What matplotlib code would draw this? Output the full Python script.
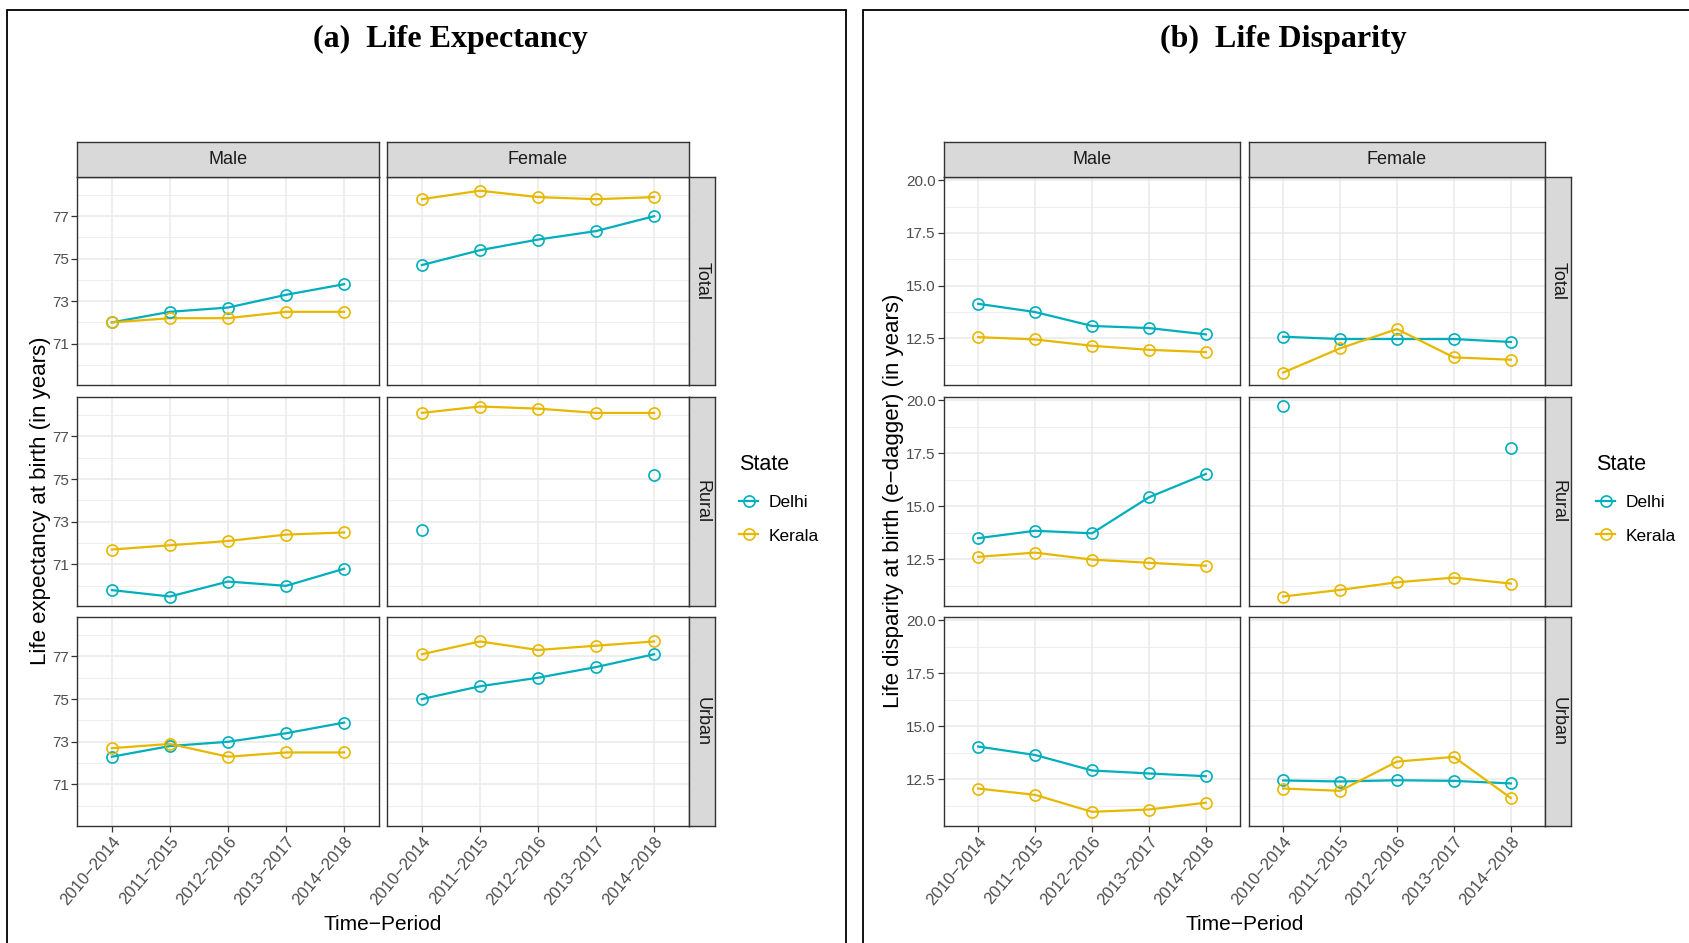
import numpy as np
import matplotlib.pyplot as plt
from matplotlib.lines import Line2D
from matplotlib.patches import Rectangle

W, H = 1690, 943

periods = ["2010\u22122014", "2011\u22122015", "2012\u22122016", "2013\u22122017", "2014\u22122018"]
states = ["Delhi", "Kerala"]
sexes = ["Male", "Female"]
residences = ["Total", "Rural", "Urban"]
nan = np.nan

# (a) life expectancy at birth
le_delhi_total_male = [72.0, 72.5, 72.7, 73.3, 73.8]
le_kerala_total_male = [72.0, 72.2, 72.2, 72.5, 72.5]
le_delhi_total_female = [74.7, 75.4, 75.9, 76.3, 77.0]
le_kerala_total_female = [77.8, 78.2, 77.9, 77.8, 77.9]
le_delhi_rural_male = [69.8, 69.5, 70.2, 70.0, 70.8]
le_kerala_rural_male = [71.7, 71.9, 72.1, 72.4, 72.5]
le_delhi_rural_female = [72.6, nan, nan, nan, 75.2]
le_kerala_rural_female = [78.1, 78.4, 78.3, 78.1, 78.1]
le_delhi_urban_male = [72.3, 72.8, 73.0, 73.4, 73.9]
le_kerala_urban_male = [72.7, 72.9, 72.3, 72.5, 72.5]
le_delhi_urban_female = [75.0, 75.6, 76.0, 76.5, 77.1]
le_kerala_urban_female = [77.1, 77.7, 77.3, 77.5, 77.7]

# (b) life disparity (e-dagger)
ld_delhi_total_male = [14.14, 13.75, 13.09, 12.99, 12.69]
ld_kerala_total_male = [12.56, 12.45, 12.15, 11.96, 11.85]
ld_delhi_total_female = [12.58, 12.47, 12.47, 12.47, 12.33]
ld_kerala_total_female = [10.88, 12.03, 12.94, 11.60, 11.49]
ld_delhi_rural_male = [13.49, 13.84, 13.72, 15.42, 16.52]
ld_kerala_rural_male = [12.61, 12.81, 12.48, 12.33, 12.19]
ld_delhi_rural_female = [19.70, nan, nan, nan, 17.75]
ld_kerala_rural_female = [10.74, 11.05, 11.41, 11.63, 11.35]
ld_delhi_urban_male = [14.04, 13.64, 12.91, 12.77, 12.64]
ld_kerala_urban_male = [12.06, 11.76, 10.96, 11.07, 11.39]
ld_delhi_urban_female = [12.44, 12.39, 12.45, 12.42, 12.30]
ld_kerala_urban_female = [12.06, 11.95, 13.33, 13.55, 11.61]

le_data = {
    ("Total", "Male"): (le_delhi_total_male, le_kerala_total_male),
    ("Total", "Female"): (le_delhi_total_female, le_kerala_total_female),
    ("Rural", "Male"): (le_delhi_rural_male, le_kerala_rural_male),
    ("Rural", "Female"): (le_delhi_rural_female, le_kerala_rural_female),
    ("Urban", "Male"): (le_delhi_urban_male, le_kerala_urban_male),
    ("Urban", "Female"): (le_delhi_urban_female, le_kerala_urban_female),
}
ld_data = {
    ("Total", "Male"): (ld_delhi_total_male, ld_kerala_total_male),
    ("Total", "Female"): (ld_delhi_total_female, ld_kerala_total_female),
    ("Rural", "Male"): (ld_delhi_rural_male, ld_kerala_rural_male),
    ("Rural", "Female"): (ld_delhi_rural_female, ld_kerala_rural_female),
    ("Urban", "Male"): (ld_delhi_urban_male, ld_kerala_urban_male),
    ("Urban", "Female"): (ld_delhi_urban_female, ld_kerala_urban_female),
}

colors = {"Delhi": "#00AFBB", "Kerala": "#E7B800"}

SANS = ["Liberation Sans", "DejaVu Sans"]
SERIF = ["Liberation Serif", "DejaVu Serif"]

fig = plt.figure(figsize=(W / 100, H / 100), dpi=100)


def box(x0, y0, x1, y1):
    # pixel box (top-left origin) -> figure fraction
    return [x0 / W, 1 - y1 / H, (x1 - x0) / W, (y1 - y0) / H]


def strip(x0, y0, x1, y1, label, vertical=False):
    s = fig.add_axes(box(x0, y0, x1, y1))
    s.set_facecolor("#D9D9D9")
    s.set_xticks([])
    s.set_yticks([])
    for sp in s.spines.values():
        sp.set_color("#333333")
        sp.set_linewidth(1.0)
    if vertical:
        s.text(0.5, 0.5, label, rotation=270, ha="center", va="center",
               transform=s.transAxes, fontsize=13, color="#1A1A1A", family=SANS)
    else:
        s.text(0.5, 0.5, label, ha="center", va="center",
               transform=s.transAxes, fontsize=13, color="#1A1A1A", family=SANS)


def facet_block(data, cols_x, strip_x, major, minor, fmt, ylabel, ylabel_x,
                title, title_x, legend_x):
    rows_y = [(177, 385), (397, 606), (617, 826)]
    allv = np.concatenate([np.array(v, float) for pair in data.values() for v in pair])
    lo, hi = np.nanmin(allv), np.nanmax(allv)
    pad = (hi - lo) * 0.05
    x = np.arange(len(periods))

    for r, res in enumerate(residences):
        y0, y1 = rows_y[r]
        for c, sex in enumerate(sexes):
            x0, x1 = cols_x[c]
            ax = fig.add_axes(box(x0, y0, x1, y1))
            ax.set_xlim(-0.6, len(periods) - 0.4)
            ax.set_ylim(lo - pad, hi + pad)
            ax.set_xticks(x)
            ax.set_yticks(major)
            ax.set_yticks(minor, minor=True)
            ax.grid(which="major", color="#EBEBEB", lw=1.2)
            ax.grid(which="minor", axis="y", color="#EBEBEB", lw=0.6)
            ax.set_axisbelow(True)
            for sp in ax.spines.values():
                sp.set_color("#333333")
                sp.set_linewidth(1.0)
            ax.tick_params(which="major", length=4, width=0.9, color="#333333",
                           labelsize=11, labelcolor="#4D4D4D", pad=2)
            ax.tick_params(which="minor", length=0)

            for st, vals in zip(states, data[(res, sex)]):
                ax.plot(x, vals, color=colors[st], lw=1.6, zorder=3)
            for st, vals in zip(states, data[(res, sex)]):
                ax.plot(x, vals, "o", ms=8, mfc="none", mec=colors[st], mew=1.2, zorder=4)

            if c == 0:
                ax.set_yticklabels([fmt.format(v) for v in major], family=SANS)
            else:
                ax.tick_params(axis="y", left=False, labelleft=False)
            if r == 2:
                ax.set_xticklabels(periods, rotation=50, ha="right", va="top",
                                   rotation_mode="anchor", family=SANS, fontsize=12)
            else:
                ax.tick_params(axis="x", bottom=False, labelbottom=False)

            if r == 0:
                strip(x0, 142, x1, 177, sex)
        strip(strip_x[0], y0, strip_x[1], y1, res, vertical=True)

    fig.text(ylabel_x / W, 1 - 501 / H, ylabel, rotation=90, ha="center", va="center",
             fontsize=16, family=SANS, color="black")
    xc = (cols_x[0][0] + cols_x[1][1]) / 2
    fig.text(xc / W, 1 - 924 / H, "Time\u2212Period", ha="center", va="center",
             fontsize=15, family=SANS, color="black")
    fig.text(title_x / W, 1 - 39 / H, title, ha="center", va="center",
             fontsize=23, fontweight="bold", family=SERIF)

    # legend: title as its own text, entries below it
    fig.text(legend_x / W, 1 - 464 / H, "State", ha="left", va="center",
             fontsize=15.5, family=SANS, color="black")
    handles = [Line2D([], [], color=colors[s], lw=1.6, marker="o", ms=8,
                      mfc="none", mec=colors[s], mew=1.2) for s in states]
    fig.legend(handles, states, loc="upper left",
               bbox_to_anchor=(legend_x / W, 1 - 495 / H), frameon=False,
               borderpad=0, borderaxespad=0, handlelength=1.1,
               handletextpad=0.6, labelspacing=1.05,
               prop={"family": SANS, "size": 12.5})


facet_block(le_data, [(77, 379), (387, 689)], (689, 715),
            [71, 73, 75, 77], [70, 72, 74, 76, 78], "{:.0f}",
            "Life expectancy at birth (in years)", 41,
            "(a)  Life Expectancy", 450, 739)

facet_block(ld_data, [(944, 1240), (1249, 1545)], (1545, 1571),
            [12.5, 15.0, 17.5, 20.0], [11.25, 13.75, 16.25, 18.75], "{:.1f}",
            "Life disparity at birth (e\u2212dagger) (in years)", 894,
            "(b)  Life Disparity", 1283, 1596)

# outer frames around the two figures
for fx0, fx1 in [(7, 846), (863, 1705)]:
    fig.add_artist(Rectangle((fx0 / W, 1 - 960 / H), (fx1 - fx0) / W, (960 - 10) / H,
                             transform=fig.transFigure, fill=False,
                             edgecolor="black", lw=1.3, clip_on=False))

fig.savefig("out.png", dpi=100)
